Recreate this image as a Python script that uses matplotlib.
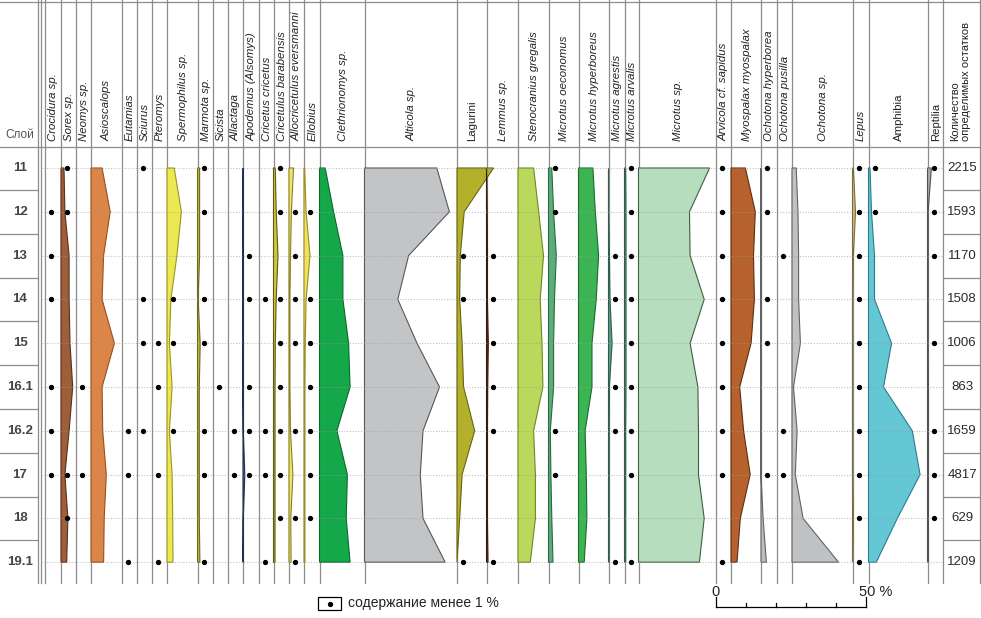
import matplotlib
matplotlib.use('Agg')
import matplotlib.pyplot as plt
from matplotlib.patches import Rectangle

plt.rcParams['font.family'] = ['Liberation Sans', 'DejaVu Sans']

# ---- data -------------------------------------------------------------
layers = ['11', '12', '13', '14', '15', '16.1', '16.2', '17', '18', '19.1']
counts = [2215, 1593, 1170, 1508, 1006, 863, 1659, 4817, 629, 1209]

# share of remains, % (one value per layer)
sorex = [1.0, 1.3, 2.7, 2.7, 3.0, 3.9, 2.7, 1.3, 2.3, 1.9]
asioscalops = [3.7, 6.4, 4.2, 3.7, 7.8, 3.7, 3.9, 5.1, 4.4, 4.2]
spermophilus = [2.4, 4.8, 3.3, 1.3, 0.8, 1.7, 0.8, 1.7, 1.9, 2.0]
marmota = [0.7, 0.7, 0.7, 0.2, 0.9, 0.6, 0.6, 0.6, 0.6, 0.8]
apodemus = [0, 0, 0, 0, 0, 0, 0.1, 0.6, 0.1, 0]
cricetulus = [0.6, 0.9, 1.5, 0.9, 0.6, 0.5, 0.5, 0.5, 0.5, 0.5]
allocricetulus = [1.5, 0.8, 0.5, 0.3, 0.3, 0.3, 0.5, 1.3, 0.6, 0.7]
ellobius = [0.2, 0.7, 2.0, 0.7, 0.4, 0.3, 0.3, 0.3, 0.3, 0.3]
clethrionomys = [1.9, 4.7, 7.8, 7.8, 9.7, 10.2, 5.8, 9.3, 8.9, 10.2]
alticola = [24.1, 28.3, 14.7, 11.1, 17.5, 25.0, 19.5, 18.6, 19.5, 26.9]
lagurini = [12.2, 2.4, 1.1, 0.9, 1.7, 2.2, 5.9, 1.7, 0.9, 0.0]
lemmus = [0, 0.2, 0.3, 0.3, 0.6, 0.4, 0.3, 0.3, 0.3, 0.5]
stenocranius = [5.2, 6.9, 8.5, 7.4, 8.0, 8.3, 5.2, 5.8, 5.8, 4.1]
m_oeconomus = [1.1, 1.7, 2.6, 2.0, 1.7, 1.7, 0.6, 0.8, 1.1, 1.5]
m_hyperboreus = [4.8, 5.6, 6.7, 5.9, 4.5, 4.5, 2.2, 2.6, 2.8, 1.9]
m_agrestis = [0, 0, 0.3, 0.5, 1.2, 0.3, 0.2, 0.2, 0.2, 0.2]
m_arvalis = [0.4, 0.5, 0.5, 0.5, 0.5, 0.5, 0.4, 0.4, 0.4, 0.4]
microtus = [23.7, 17.0, 17.2, 21.9, 17.2, 19.8, 20.0, 20.0, 21.9, 20.3]
myospalax = [4.8, 8.1, 7.5, 7.8, 6.7, 2.9, 4.2, 6.4, 3.1, 2.0]
o_hyperborea = [0, 0, 0, 0, 0, 0, 0, 0, 0.7, 1.8]
ochotona = [1.4, 2.0, 2.2, 2.2, 2.8, 0.5, 1.7, 1.1, 3.7, 15.5]
lepus = [0.3, 1.0, 0.3, 0, 0, 0, 0, 0, 0.3, 0]
amphibia = [0.5, 1.0, 2.0, 2.0, 7.7, 5.0, 14.6, 17.2, 9.6, 2.6]
reptilia = [1.3, 0.2, 0.2, 0.2, 0.2, 0.3, 0.3, 0.3, 0.3, 0.3]

# layers where the taxon makes up less than 1 %
crocidura_dots = ['12', '13', '14', '16.1', '16.2', '17']
sorex_dots = ['11', '12', '17', '18']
neomys_dots = ['16.1', '17']
eutamias_dots = ['16.2', '17', '19.1']
sciurus_dots = ['11', '14', '15', '16.2']
pteromys_dots = ['15', '16.1', '17', '19.1']
spermophilus_dots = ['14', '15', '16.2']
marmota_dots = ['11', '12', '14', '15', '16.2', '17', '19.1']
sicista_dots = ['16.1']
allactaga_dots = ['16.2', '17']
apodemus_dots = ['13', '14', '16.1', '16.2', '17']
cricetus_dots = ['14', '16.2', '17', '19.1']
cricetulus_dots = ['11', '12', '14', '15', '16.1', '16.2', '17', '18']
allocricetulus_dots = ['12', '13', '14', '15', '16.2', '18', '19.1']
ellobius_dots = ['12', '14', '15', '16.1', '16.2', '17', '18']
lagurini_dots = ['13', '14', '19.1']
lemmus_dots = ['13', '14', '15', '16.1', '16.2', '19.1']
m_oeconomus_dots = ['11', '12', '16.2', '17']
m_agrestis_dots = ['13', '14', '16.1', '16.2', '19.1']
m_arvalis_dots = ['11', '12', '13', '14', '15', '16.1', '16.2', '17', '19.1']
arvicola_dots = ['11', '12', '13', '14', '15', '16.1', '16.2', '17', '19.1']
o_hyperborea_dots = ['11', '12', '14', '15', '17']
o_pusilla_dots = ['13', '16.2', '17']
lepus_dots = ['11', '12', '13', '14', '15', '16.1', '16.2', '17', '18', '19.1']
amphibia_dots = ['11', '12']
reptilia_dots = ['11', '12', '13', '15', '16.2', '17', '18']

# ---- layout (pixels) ---------------------------------------------------
W, H = 981, 618
PX = 3.0                 # px per 1 %
Y_TOP, ROW_H = 168, 43.8
HEAD_Y = 147
BOTTOM = 583
ylev = [Y_TOP + i * ROW_H for i in range(len(layers))]
lev_of = dict(zip(layers, ylev))

# label, italic, left x, values, dots, fill, edge
columns = [
    ('Crocidura sp.', True, 45, None, crocidura_dots, None, None),
    ('Sorex sp.', True, 61, sorex, sorex_dots, '#9c5f3a', '#5a3018'),
    ('Neomys sp.', True, 76, None, neomys_dots, None, None),
    ('Asioscalops', True, 91, asioscalops, [], '#db8548', '#9a4f1c'),
    ('Eutamias', True, 122, None, eutamias_dots, None, None),
    ('Sciurus', True, 137, None, sciurus_dots, None, None),
    ('Pteromys', True, 152, None, pteromys_dots, None, None),
    ('Spermophilus sp.', True, 167, spermophilus, spermophilus_dots, '#ebe852', '#9a9622'),
    ('Marmota sp.', True, 197.5, marmota, marmota_dots, '#bdb443', '#6f6a1e'),
    ('Sicista', True, 213, None, sicista_dots, None, None),
    ('Allactaga', True, 228, None, allactaga_dots, None, None),
    ('Apodemus (Alsomys)', True, 243, apodemus, apodemus_dots, '#3d5f86', '#1e3454'),
    ('Cricetus cricetus', True, 258.5, None, cricetus_dots, None, None),
    ('Cricetulus barabensis', True, 273.5, cricetulus, cricetulus_dots, '#cfc53a', '#5e5a12'),
    ('Allocricetulus eversmanni', True, 289, allocricetulus, allocricetulus_dots, '#f1e66a', '#8c7f22'),
    ('Ellobius', True, 304, ellobius, ellobius_dots, '#f2e15e', '#9c8c22'),
    ('Clethrionomys sp.', True, 319.5, clethrionomys, [], '#15a84a', '#0b6a2b'),
    ('Alticola sp.', True, 364.5, alticola, [], '#c3c4c6', '#55575a'),
    ('Lagurini', False, 457, lagurini, lagurini_dots, '#b3b02c', '#67650f'),
    ('Lemmus sp.', True, 486.5, lemmus, lemmus_dots, '#5a2c12', '#3a1a08'),
    ('Stenocranius gregalis', True, 518, stenocranius, [], '#bad95c', '#6b8a22'),
    ('Microtus oeconomus', True, 548.5, m_oeconomus, m_oeconomus_dots, '#5cab7b', '#2a6a42'),
    ('Microtus hyperboreus', True, 578.5, m_hyperboreus, [], '#3db454', '#1b6a2c'),
    ('Microtus agrestis', True, 608.5, m_agrestis, m_agrestis_dots, '#5c9c82', '#2e5e4a'),
    ('Microtus arvalis', True, 624.5, m_arvalis, m_arvalis_dots, '#5c9c82', '#2e5e4a'),
    ('Microtus sp.', True, 638.5, microtus, [], '#b7ddbf', '#3e5e44'),
    ('Arvicola cf. sapidus', True, 716, None, arvicola_dots, None, None),
    ('Myospalax myospalax', True, 731, myospalax, [], '#b7622c', '#5e2e10'),
    ('Ochotona hyperborea', True, 761, o_hyperborea, o_hyperborea_dots, '#bcbdbf', '#606264'),
    ('Ochotona pusilla', True, 777, None, o_pusilla_dots, None, None),
    ('Ochotona sp.', True, 792, ochotona, [], '#c0c1c3', '#606264'),
    ('Lepus', True, 852.5, lepus, lepus_dots, '#cbbd80', '#7a6c3a'),
    ('Amphibia', False, 868.5, amphibia, amphibia_dots, '#64c7d3', '#2a7c8a'),
    ('Reptilia', False, 927.5, reptilia, reptilia_dots, '#a8a9ab', '#505254'),
]
COUNT_X = 943
RIGHT_X = 980

fig = plt.figure(figsize=(W / 100, H / 100), dpi=100)
ax = fig.add_axes([0, 0, 1, 1])
ax.set_xlim(0, W)
ax.set_ylim(H, 0)
ax.axis('off')

line_c = '#8c8c8c'

# frame lines
ax.plot([0, RIGHT_X], [1.5, 1.5], color=line_c, lw=0.9, zorder=1)
ax.plot([0, RIGHT_X], [HEAD_Y, HEAD_Y], color=line_c, lw=0.9, zorder=1)
for x in [38, 40.5, COUNT_X, RIGHT_X]:
    ax.plot([x, x], [0, BOTTOM], color=line_c, lw=0.9, zorder=1)

# row separators in layer / count columns
for i in range(len(layers) - 1):
    ym = (ylev[i] + ylev[i + 1]) / 2
    ax.plot([0, 38], [ym, ym], color=line_c, lw=0.9, zorder=1)
    ax.plot([COUNT_X, RIGHT_X], [ym, ym], color=line_c, lw=0.9, zorder=1)

# column lines and headers
next_x = [c[2] for c in columns[1:]] + [COUNT_X]
for (label, italic, x0, vals, dots, fc, ec), x1 in zip(columns, next_x):
    ax.plot([x0, x0], [0, BOTTOM], color=line_c, lw=0.9, zorder=1)
    ax.text((x0 + x1) / 2 + 0.5, 141, label, rotation=90, ha='center', va='bottom',
            fontsize=8.2, style='italic' if italic else 'normal', color='#222222')
    if vals is not None:
        xs = [x0] + [x0 + v * PX for v in vals] + [x0]
        ys = [ylev[0]] + ylev + [ylev[-1]]
        ax.fill(xs, ys, facecolor=fc, edgecolor=ec, lw=0.8, zorder=3)
    for d in dots:
        ax.plot(x0 + 6, lev_of[d], 'o', color='black', ms=2.8, zorder=5)

# dotted level lines
for y in ylev:
    ax.plot([40.5, COUNT_X], [y, y], color='#9a9a9a', lw=0.8, ls=(0, (1, 1.5)),
            alpha=0.6, zorder=4)

# layer names and counts
ax.text(20, 141, 'Слой', ha='center', va='bottom', fontsize=8.5, color='#555555')
ax.text(961, 141, 'Количество\nопределимых остатков', rotation=90, ha='center',
        va='bottom', multialignment='left', fontsize=8, color='#222222',
        linespacing=1.1)
for lab, y in zip(layers, ylev):
    ax.text(20, y, lab, ha='center', va='center', fontsize=9.5, fontweight='bold',
            color='#444444')
for n, y in zip(counts, ylev):
    ax.text(962, y, str(n), ha='center', va='center', fontsize=9.5, color='#2a2a2a')

# legend for dots
ax.add_patch(Rectangle((318, 597), 23, 13, facecolor='white', edgecolor='black', lw=0.9))
ax.plot(329.5, 603.5, 'o', color='black', ms=2.8)
ax.text(348, 603.5, 'содержание менее 1 %', ha='left', va='center', fontsize=10, color='#222222')

# scale bar
SX0, SY = 716, 607
ax.plot([SX0, SX0 + 50 * PX], [SY, SY], color='black', lw=0.9)
for p in range(0, 51, 10):
    top = SY - 10 if p in (0, 50) else SY - 4
    ax.plot([SX0 + p * PX] * 2, [SY, top], color='black', lw=0.9)
ax.text(SX0, 592, '0', ha='center', va='center', fontsize=10.5, color='#222222')
ax.text(SX0 + 50 * PX - 7, 592, '50 %', ha='left', va='center', fontsize=10.5, color='#222222')

fig.savefig('out.png', dpi=100)
